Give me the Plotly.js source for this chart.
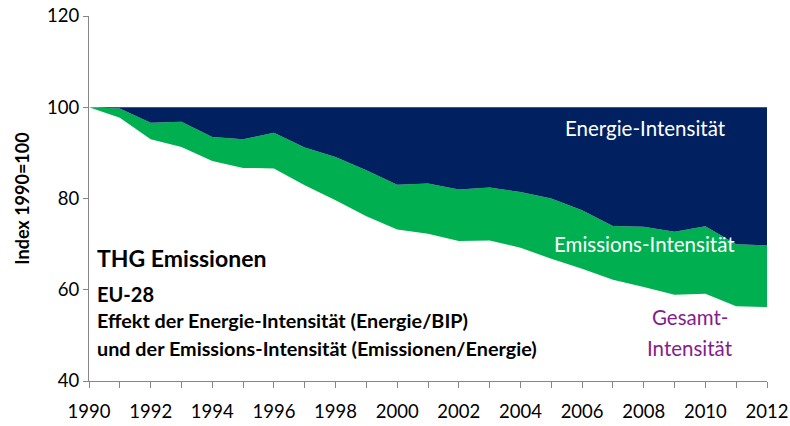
<!DOCTYPE html>
<html><head><meta charset="utf-8">
<script src="https://cdn.plot.ly/plotly-3.0.1.min.js"></script>
<style>html,body{margin:0;padding:0;background:#fff}#chart{width:790px;height:426px}</style>
</head><body><div id="chart"></div>
<script>
const years = [1990,1991,1992,1993,1994,1995,1996,1997,1998,1999,2000,2001,2002,2003,2004,2005,2006,2007,2008,2009,2010,2011,2012];
const gesamtIntensitaet = [100,97.7,93.0,91.3,88.2,86.7,86.6,82.9,79.6,76.1,73.2,72.3,70.7,70.8,69.2,66.8,64.6,62.2,60.6,58.9,59.1,56.4,56.2];
const energieIntensitaet = [100,99.7,96.6,96.8,93.5,93.0,94.4,91.2,89.1,86.2,83.0,83.3,82.0,82.4,81.4,80.0,77.4,74.0,73.8,72.7,73.9,70.0,69.7];
const basis = [100,100,100,100,100,100,100,100,100,100,100,100,100,100,100,100,100,100,100,100,100,100,100];

const F = 'Lato, "Open Sans", sans-serif';
const traces = [
  {x: years, y: gesamtIntensitaet, type: 'scatter', mode: 'lines', line: {width: 0, color: '#00B050'}, hoverinfo: 'skip', showlegend: false},
  {x: years, y: energieIntensitaet, type: 'scatter', mode: 'lines', fill: 'tonexty', fillcolor: '#00B050', line: {width: 0, color: '#00B050'}, showlegend: false},
  {x: years, y: basis, type: 'scatter', mode: 'lines', fill: 'tonexty', fillcolor: '#002060', line: {width: 0, color: '#002060'}, showlegend: false}
];
const layout = {
  width: 790, height: 426,
  margin: {l: 89, r: 23, t: 16, b: 45},
  paper_bgcolor: '#fff', plot_bgcolor: '#fff',
  font: {family: F, color: '#000', size: 18},
  xaxis: {range: [1990, 2012], dtick: 2, tick0: 1990, ticks: 'outside', ticklen: 6, tickcolor: '#868686',
    showline: true, linecolor: '#868686', linewidth: 1, showgrid: false, zeroline: false, ticklabelstandoff: 8,
    tickfont: {family: F, size: 18.5}, minor: {dtick: 1, ticks: 'outside', ticklen: 6, tickcolor: '#868686', showgrid: false}},
  yaxis: {range: [40, 120], dtick: 20, ticks: 'outside', ticklen: 5, tickcolor: '#868686',
    showline: true, linecolor: '#868686', linewidth: 1, showgrid: false, zeroline: false,
    tickfont: {family: F, size: 18.5},
    title: {text: '<b>Index 1990=100</b>', font: {family: F, size: 18}, standoff: 12}},
  annotations: [
    {text: '<b>THG Emissionen</b>', x: 1990.2, y: 67.0, xref: 'x', yref: 'y', xanchor: 'left', yanchor: 'middle', showarrow: false, font: {family: F, size: 23}},
    {text: '<b>EU-28</b>', x: 1990.2, y: 59.1, xref: 'x', yref: 'y', xanchor: 'left', yanchor: 'middle', showarrow: false, font: {family: F, size: 20}},
    {text: '<b>Effekt der Energie-Intensität (Energie/BIP)</b>', x: 1990.2, y: 53.4, xref: 'x', yref: 'y', xanchor: 'left', yanchor: 'middle', showarrow: false, font: {family: F, size: 19.8}},
    {text: '<b>und der Emissions-Intensität (Emissionen/Energie)</b>', x: 1990.2, y: 47.2, xref: 'x', yref: 'y', xanchor: 'left', yanchor: 'middle', showarrow: false, font: {family: F, size: 19.8}},
    {text: 'Energie-Intensität', x: 2008.07, y: 95.4, xref: 'x', yref: 'y', xanchor: 'center', yanchor: 'middle', showarrow: false, font: {family: F, size: 20.5, color: '#fff'}},
    {text: 'Emissions-Intensität', x: 2008.04, y: 70.0, xref: 'x', yref: 'y', xanchor: 'center', yanchor: 'middle', showarrow: false, font: {family: F, size: 20.5, color: '#fff'}},
    {text: 'Gesamt-', x: 2009.5, y: 54.1, xref: 'x', yref: 'y', xanchor: 'center', yanchor: 'middle', showarrow: false, font: {family: F, size: 20.5, color: '#861C8C'}},
    {text: 'Intensität', x: 2009.5, y: 47.2, xref: 'x', yref: 'y', xanchor: 'center', yanchor: 'middle', showarrow: false, font: {family: F, size: 20.5, color: '#861C8C'}}
  ]
};
Plotly.newPlot('chart', traces, layout, {displayModeBar: false, staticPlot: true});
</script></body></html>
